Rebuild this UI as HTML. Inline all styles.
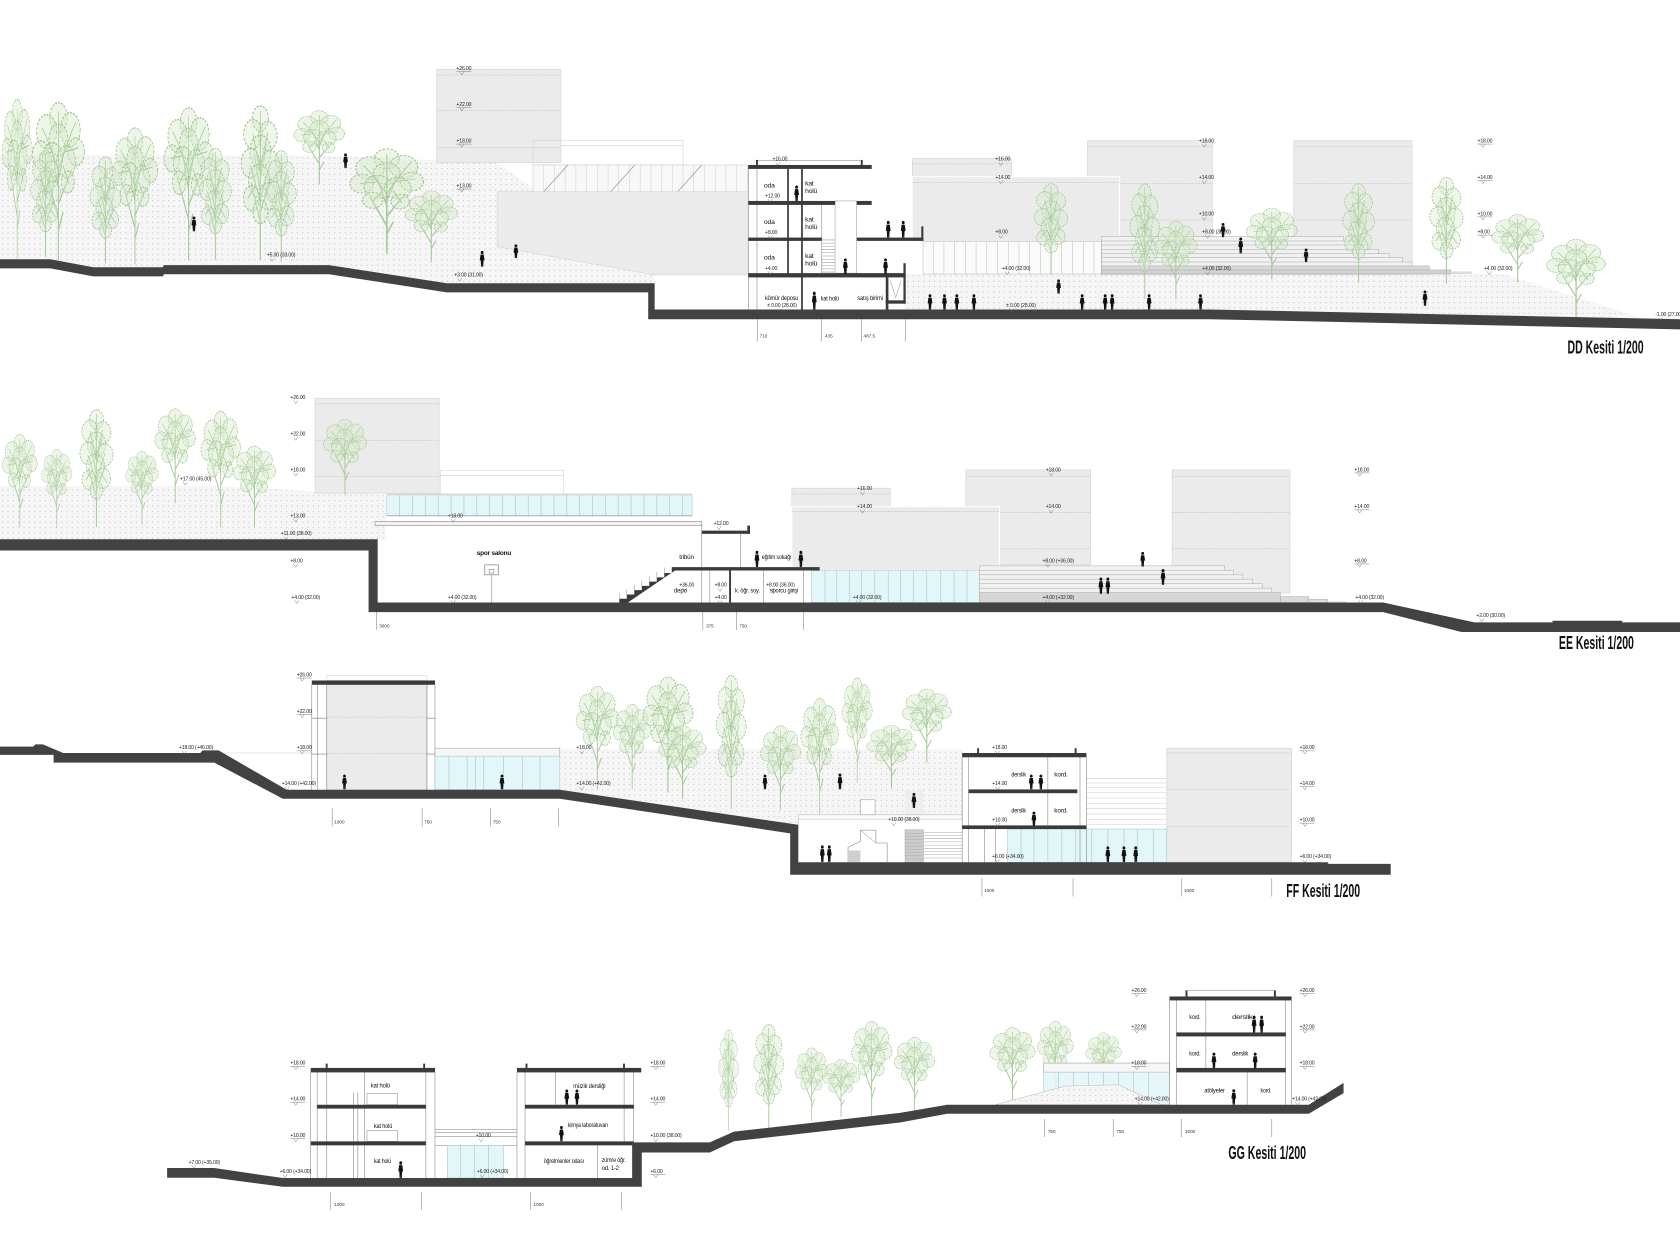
<!DOCTYPE html>
<html><head><meta charset="utf-8"><title>Kesitler</title>
<style>
html,body{margin:0;padding:0;background:#fff}
svg{display:block}
.lv text{font-family:"Liberation Sans Narrow","Liberation Sans",sans-serif;font-size:4.8px;fill:#222;letter-spacing:-0.15px}
.lv path{stroke:#666;stroke-width:.4;fill:none}
.rm{font-family:"Liberation Sans Narrow","Liberation Sans",sans-serif;font-size:6.3px;fill:#111;letter-spacing:-0.2px}
.dm{font-family:"Liberation Sans",sans-serif;font-size:4.3px;fill:#333}
.tt{font-family:"Liberation Sans Narrow","Liberation Sans",sans-serif;font-size:17px;font-weight:bold;fill:#111}
.gb{fill:#ebebeb;stroke:#d6d6d6;stroke-width:.6}
.sl{fill:#3a3a3a}
.gr{fill:#424242}
.ln{stroke:#7a7a7a;stroke-width:.5;fill:none}
.lk{stroke:#444;stroke-width:.7;fill:none}
.lf{stroke:#d0d0d0;stroke-width:.5;fill:none}
.dl{stroke:#b0b0b0;stroke-width:.5;stroke-dasharray:1 1;fill:none}
.gl{fill:#e3f6f8;stroke:#9ec9cf;stroke-width:.5}
.ml{stroke:#a6ccd2;stroke-width:.6;fill:none}
.st{fill:#f1f1f1;stroke:#a5a5a5;stroke-width:.45}
</style></head><body>
<svg xmlns="http://www.w3.org/2000/svg" width="1680" height="1235" viewBox="0 0 1568 1153" preserveAspectRatio="none">
<defs>
<pattern id="dt" width="5" height="5" patternUnits="userSpaceOnUse"><rect width="5" height="5" fill="#f6f6f6"/><circle cx="2.5" cy="2.5" r=".55" fill="#c2c2c2"/></pattern>
<symbol id="ta" viewBox="0 0 100 160" preserveAspectRatio="none">
<path d="M50 160V55M50 118L30 75M50 104L72 70M50 88L38 45M50 80L63 40M50 130L58 112" fill="none" stroke="#a6cb98" stroke-width="2"/>
<g fill="#d6e8cd" fill-opacity=".45" stroke="#9cc58d" stroke-width="1.5" stroke-dasharray="3 2">
<circle cx="50" cy="18" r="15"/><circle cx="30" cy="32" r="17"/><circle cx="70" cy="30" r="17"/><circle cx="50" cy="40" r="16"/><circle cx="20" cy="55" r="14"/><circle cx="80" cy="52" r="14"/><circle cx="40" cy="60" r="17"/><circle cx="63" cy="62" r="16"/><circle cx="33" cy="80" r="12"/><circle cx="66" cy="82" r="11"/>
</g>
<path d="M50 70L30 38M50 70L72 33M50 62L50 12M40 52L18 55M62 52L84 48M45 66L33 82M58 66L68 84M30 38L22 28M72 33L80 22" fill="none" stroke="#a9cd9b" stroke-width="1.3"/>
</symbol>
<symbol id="tb" viewBox="0 0 100 160" preserveAspectRatio="none">
<path d="M50 160V30M50 120L35 80M50 110L66 78M50 90L40 50M50 75L60 40" fill="none" stroke="#a6cb98" stroke-width="2"/>
<g fill="#d6e8cd" fill-opacity=".4" stroke="#9cc58d" stroke-width="1.5" stroke-dasharray="3 2">
<circle cx="50" cy="14" r="13"/><circle cx="38" cy="30" r="15"/><circle cx="62" cy="32" r="15"/><circle cx="50" cy="48" r="17"/><circle cx="34" cy="60" r="15"/><circle cx="66" cy="62" r="15"/><circle cx="48" cy="78" r="17"/><circle cx="36" cy="96" r="13"/><circle cx="62" cy="94" r="14"/><circle cx="50" cy="110" r="12"/>
</g>
<path d="M50 100L34 62M50 96L66 60M50 70L38 30M50 64L62 28M50 40L50 6M42 84L30 96M58 86L70 100" fill="none" stroke="#a9cd9b" stroke-width="1.3"/>
</symbol>
<symbol id="pp" viewBox="0 0 6 16" preserveAspectRatio="none"><circle cx="3" cy="1.8" r="1.6"/><path d="M1.2 3.8h3.6l.9 5.8h-1.1l-.4 6.4h-1.1l-.1-4.2-.1 4.2h-1.1l-.4-6.4h-1.1z"/></symbol>
</defs>
<rect width="1568" height="1153" fill="#fff"/>

<!-- ================= DD ================= -->
<path fill="url(#dt)" d="M0 145L300 145L464 152L611 256.7L611 264.5L417 264.5L307 247.5L153 247.5L152 249.5L87 249.5L47 242L0 242Z"/>
<path fill="url(#dt)" d="M844 255.8L1404 255.8L1531.5 297L1129 289L844 289Z"/>
<rect class="gb" x="407.5" y="64.7" width="116" height="87.1"/>
<path class="dl" d="M407.5 70H523.5M407.5 103.4H523.5M407.5 137.5H523.5"/>
<rect class="lf" x="497.5" y="131" width="140" height="23"/>
<path class="lf" d="M523.5 136H637.5"/>
<rect x="497.5" y="154" width="200" height="25" fill="#f8f8f8" stroke="#c8c8c8" stroke-width=".5"/>
<path class="lf" d="M507.5 154V179M517.5 154V179M527.5 154V179M537.5 154V179M547.5 154V179M557.5 154V179M567.5 154V179M577.5 154V179M587.5 154V179M597.5 154V179M607.5 154V179M617.5 154V179M627.5 154V179M637.5 154V179M647.5 154V179M657.5 154V179M667.5 154V179M677.5 154V179M687.5 154V179"/>
<path class="ln" d="M507.5 179L530 154M570 179L592.5 154M632.5 179L655 154"/>
<path class="gb" d="M464 179L697.5 179L697.5 256.7L611 256.7L464 230.3Z"/>
<!-- right blocks -->
<rect class="gb" x="1015" y="131.3" width="116.5" height="89.7"/>
<path class="dl" d="M1015 136.9H1131.5M1015 171.1H1131.5M1015 205.4H1131.5"/>
<rect class="gb" x="1207.5" y="131.3" width="110.5" height="114.5"/>
<path class="dl" d="M1207.5 136.9H1318M1207.5 171.1H1318M1207.5 205.4H1318"/>
<rect class="gb" x="851.5" y="147.8" width="92.5" height="17.2"/>
<path class="dl" d="M851.5 153H944"/>
<rect class="gb" x="851.5" y="165" width="193.5" height="60.6" style="stroke:#fff;stroke-width:1"/>
<path class="dl" d="M851.5 170.5H1045"/>
<rect x="861.5" y="225.6" width="166.5" height="30.2" fill="#fbfbfb" stroke="#bbb" stroke-width=".5"/>
<path class="lf" d="M871 225.6V255.8M881 225.6V255.8M891 225.6V255.8M901 225.6V255.8M911 225.6V255.8M921 225.6V255.8M931 225.6V255.8M941 225.6V255.8M951 225.6V255.8M961 225.6V255.8M971 225.6V255.8M981 225.6V255.8M991 225.6V255.8M1001 225.6V255.8M1011 225.6V255.8M1021 225.6V255.8" style="stroke:#bdbdbd"/>
<!-- DD stairs -->
<rect class="st" x="1028" y="220.9" width="226" height="34.9"/>
<rect class="st" x="1028" y="225" width="236" height="30.8"/>
<rect class="st" x="1028" y="228.7" width="248.5" height="27.1"/>
<rect class="st" x="1028" y="232.7" width="258.5" height="23.1"/>
<rect class="st" x="1028" y="236.8" width="268.5" height="19"/>
<rect class="st" x="1028" y="240.5" width="281" height="15.3"/>
<rect class="st" x="1028" y="244.6" width="290" height="11.2"/>
<rect x="1028" y="248.3" width="306" height="7.5" fill="#d9d9d9" stroke="#a5a5a5" stroke-width=".45"/>
<rect x="1028" y="252" width="326" height="3.8" fill="#d2d2d2" stroke="#a5a5a5" stroke-width=".45"/>
<rect x="1354" y="253.5" width="20" height="2.3" fill="#dcdcdc"/>
<!-- DD trees -->
<use href="#ta" x="0" y="90" width="32" height="152"/>
<use href="#ta" x="27" y="93" width="55" height="150"/>
<use href="#tb" x="20" y="140" width="45" height="100"/>
<use href="#tb" x="75" y="146" width="47" height="100"/>
<use href="#ta" x="102" y="117" width="48" height="130"/>
<use href="#ta" x="150" y="98" width="52" height="145"/>
<use href="#tb" x="177" y="138" width="48" height="105"/>
<use href="#tb" x="214" y="98" width="58" height="145"/>
<use href="#tb" x="240" y="140" width="45" height="105"/>
<use href="#ta" x="271" y="102" width="54" height="70"/>
<use href="#ta" x="322" y="137" width="78" height="100"/>
<use href="#ta" x="375" y="177" width="55" height="68"/>
<use href="#tb" x="956" y="171" width="50" height="85"/>
<use href="#tb" x="1046" y="171" width="45" height="108"/>
<use href="#ta" x="1075" y="205" width="45" height="75"/>
<use href="#ta" x="1160" y="193" width="54" height="68"/>
<use href="#tb" x="1244" y="171" width="48" height="93"/>
<use href="#tb" x="1325" y="165" width="50" height="100"/>
<use href="#ta" x="1389" y="199" width="55" height="65"/>
<use href="#ta" x="1440" y="222" width="62" height="75"/>
<!-- DD building -->
<rect x="698.5" y="154" width="115.5" height="135" fill="#fff"/>
<path class="ln" d="M698.5 154V289M706.5 158V289"/>
<rect x="779.4" y="187.6" width="20.2" height="67.4" fill="none" stroke="#999" stroke-width=".5"/>
<path class="lf" d="M767 224H779M767 227H779M767 230H779M767 233H779M767 236H779M767 239H779M767 242H779M767 245H779M767 248H779M767 251H779M767 254H779" style="stroke:#999"/>
<path class="ln" d="M767 191V255"/>
<rect class="sl" x="698.4" y="154" width="115.2" height="3.7"/>
<rect class="sl" x="705.6" y="149.3" width="1.8" height="4.7"/>
<rect class="sl" x="803.4" y="149.3" width="1.8" height="4.7"/>
<path class="ln" d="M707.4 150H803.4"/>
<rect class="sl" x="734.7" y="157.7" width="1.6" height="98"/>
<rect class="sl" x="747.7" y="157.7" width="1.6" height="131.6"/>
<rect class="sl" x="698.4" y="187.6" width="81" height="3.7"/>
<rect class="sl" x="799.6" y="187.6" width="14" height="3.7"/>
<rect class="sl" x="698.4" y="221.8" width="68.5" height="3.1"/>
<rect class="sl" x="799.6" y="221.8" width="62.2" height="3.1"/>
<rect class="sl" x="859.9" y="211.3" width="1.9" height="13.6"/>
<rect class="sl" x="698.4" y="255" width="146.9" height="4"/>
<rect class="sl" x="843.2" y="245.7" width="2.1" height="13.3"/>
<rect class="sl" x="826.7" y="259" width="2.5" height="30.3"/>
<rect class="sl" x="826.7" y="280.4" width="18.6" height="3.1"/>
<rect class="sl" x="843.2" y="259" width="2.1" height="24.5"/>
<path class="lf" d="M831 262L836 278L841 262" style="stroke:#999"/>
<!-- DD ground -->
<path class="gr" d="M0 242L47 242L87 249.5L152 249.5L153 247.5L307 247.5L417 264.5L611 264.5L611 289L1129 289L1568 298L1568 307.5L1129 298L605 298L605 273L417 273L307 256L153 256L152 258L87 258L47 250.5L0 250.5Z"/>
<path class="ln" d="M706.8 298V319M766.9 298V319M804.2 298V319M845.3 298V319"/>
<text class="dm" x="709" y="315">710</text><text class="dm" x="770" y="315">435</text><text class="dm" x="806" y="315">487.5</text>
<!-- DD figures -->
<g fill="#111">
<use href="#pp" x="320" y="143" width="5" height="14"/>
<use href="#pp" x="178.5" y="202" width="5" height="14"/>
<use href="#pp" x="447.5" y="234" width="5" height="15"/>
<use href="#pp" x="479" y="228" width="5" height="13"/>
<use href="#pp" x="741" y="173" width="5" height="15"/>
<use href="#pp" x="826.5" y="206" width="5" height="16"/>
<use href="#pp" x="840.5" y="206" width="5" height="16"/>
<use href="#pp" x="786.5" y="241" width="5" height="15"/>
<use href="#pp" x="824" y="241" width="5" height="15"/>
<use href="#pp" x="757.5" y="272" width="5" height="17"/>
<use href="#pp" x="865.5" y="274.5" width="5" height="14.5"/>
<use href="#pp" x="879" y="274.5" width="5" height="14.5"/>
<use href="#pp" x="890.5" y="274.5" width="5" height="14.5"/>
<use href="#pp" x="906.5" y="274.5" width="5" height="14.5"/>
<use href="#pp" x="985.5" y="260.7" width="5" height="13.5"/>
<use href="#pp" x="1007.5" y="274.5" width="5" height="14.5"/>
<use href="#pp" x="1029" y="274.5" width="5" height="14.5"/>
<use href="#pp" x="1035.5" y="274.5" width="5" height="14.5"/>
<use href="#pp" x="1070" y="274.5" width="5" height="14.5"/>
<use href="#pp" x="1118" y="274.5" width="5" height="14.5"/>
<use href="#pp" x="1139" y="208" width="5" height="13.5"/>
<use href="#pp" x="1155.5" y="221.5" width="5" height="15"/>
<use href="#pp" x="1216.5" y="231.8" width="5" height="13"/>
<use href="#pp" x="1327.5" y="271" width="5" height="14.6"/>
</g>
<!-- DD labels -->
<g class="lv" transform="translate(426 65.5)"><text>+26.00</text><path d="M0 1.5h14M3 1.5l2 3 2-3"/></g>
<g class="lv" transform="translate(426 99)"><text>+22.00</text><path d="M0 1.5h14M3 1.5l2 3 2-3"/></g>
<g class="lv" transform="translate(426 133)"><text>+18.00</text><path d="M0 1.5h14M3 1.5l2 3 2-3"/></g>
<g class="lv" transform="translate(426 175)"><text>+13.00</text><path d="M0 1.5h14M3 1.5l2 3 2-3"/></g>
<g class="lv" transform="translate(249 239.5)"><text>+5.00 (33.00)</text><path d="M3 1.5l2 3 2-3"/></g>
<g class="lv" transform="translate(424 258)"><text>+3.00 (31.00)</text><path d="M3 1.5l2 3 2-3"/></g>
<g class="lv" transform="translate(721 150)"><text>+16.00</text><path d="M3 1.5l2 3 2-3"/></g>
<g class="lv" transform="translate(714 184.5)"><text>+12.00</text><path d="M3 1.5l2 3 2-3"/></g>
<g class="lv" transform="translate(714 218.5)"><text>+8.00</text><path d="M3 1.5l2 3 2-3"/></g>
<g class="lv" transform="translate(714 252)"><text>+4.00</text><path d="M3 1.5l2 3 2-3"/></g>
<g class="lv" transform="translate(716 286.5)"><text>± 0.00 (28.00)</text></g>
<g class="lv" transform="translate(929 150)"><text>+16.00</text><path d="M3 1.5l2 3 2-3"/></g>
<g class="lv" transform="translate(929 167)"><text>+14.00</text><path d="M3 1.5l2 3 2-3"/></g>
<g class="lv" transform="translate(929 218)"><text>+8.00</text><path d="M3 1.5l2 3 2-3"/></g>
<g class="lv" transform="translate(935 252)"><text>+4.00 (32.00)</text><path d="M3 1.5l2 3 2-3"/></g>
<g class="lv" transform="translate(1119 133)"><text>+18.00</text><path d="M3 1.5l2 3 2-3"/></g>
<g class="lv" transform="translate(1119 167)"><text>+14.00</text><path d="M3 1.5l2 3 2-3"/></g>
<g class="lv" transform="translate(1119 201)"><text>+10.00</text><path d="M3 1.5l2 3 2-3"/></g>
<g class="lv" transform="translate(1122 218)"><text>+8.00 (36.00)</text><path d="M3 1.5l2 3 2-3"/></g>
<g class="lv" transform="translate(1122 252)"><text>+4.00 (32.00)</text><path d="M3 1.5l2 3 2-3"/></g>
<g class="lv" transform="translate(1379 133)"><text>+18.00</text><path d="M0 1.5h14M3 1.5l2 3 2-3"/></g>
<g class="lv" transform="translate(1379 167)"><text>+14.00</text><path d="M0 1.5h14M3 1.5l2 3 2-3"/></g>
<g class="lv" transform="translate(1379 201)"><text>+10.00</text><path d="M0 1.5h14M3 1.5l2 3 2-3"/></g>
<g class="lv" transform="translate(1379 218)"><text>+8.00</text><path d="M0 1.5h14M3 1.5l2 3 2-3"/></g>
<g class="lv" transform="translate(1385 252)"><text>+4.00 (32.00)</text><path d="M3 1.5l2 3 2-3"/></g>
<g class="lv" transform="translate(939 286.5)"><text>± 0.00 (28.00)</text><path d="M3 1.5l2 3 2-3"/></g>
<g class="lv" transform="translate(1545 295)"><text>-1.00 (27.00)</text><path d="M3 1.5l2 3 2-3"/></g>
<text class="rm" x="713" y="175" textLength="10" lengthAdjust="spacingAndGlyphs">oda</text>
<text class="rm" x="713" y="209" textLength="10" lengthAdjust="spacingAndGlyphs">oda</text>
<text class="rm" x="713" y="242.5" textLength="10" lengthAdjust="spacingAndGlyphs">oda</text>
<text class="rm" x="751.5" y="173">kat</text><text class="rm" x="751.5" y="180">holü</text>
<text class="rm" x="751.5" y="207">kat</text><text class="rm" x="751.5" y="214">holü</text>
<text class="rm" x="751.5" y="241">kat</text><text class="rm" x="751.5" y="248">holü</text>
<text class="rm" x="714" y="280" textLength="31" lengthAdjust="spacingAndGlyphs">kömür deposu</text>
<text class="rm" x="766" y="280.5" textLength="17" lengthAdjust="spacingAndGlyphs">kat holü</text>
<text class="rm" x="800" y="280" textLength="24" lengthAdjust="spacingAndGlyphs">satış birimi</text>
<text class="tt" x="1463" y="330" textLength="71" lengthAdjust="spacingAndGlyphs">DD Kesiti 1/200</text>

<!-- ================= EE ================= -->
<path fill="url(#dt)" d="M0 453.6L200 453.6L360 462L360 503.5L0 503.5Z"/>
<rect class="gb" x="294" y="371.8" width="116" height="88.7"/>
<path class="dl" d="M294 377H410M294 411H410M294 445H410"/>
<rect class="lf" x="411" y="439" width="115" height="23"/>
<path class="lf" d="M411 444H526"/>
<!-- EE trees -->
<use href="#ta" x="0" y="404" width="37" height="88"/>
<use href="#ta" x="37" y="418" width="32" height="75"/>
<use href="#tb" x="65" y="382" width="50" height="110"/>
<use href="#ta" x="115" y="420" width="35" height="70"/>
<use href="#ta" x="142" y="380" width="43" height="90"/>
<use href="#ta" x="185" y="382" width="42" height="110"/>
<use href="#ta" x="215" y="415" width="45" height="77"/>
<use href="#ta" x="299" y="390" width="46" height="72"/>
<!-- clerestory -->
<rect class="gl" x="361" y="462" width="285" height="19.6"/>
<rect x="361" y="460.8" width="285" height="1.6" fill="#d8d8d8"/>
<path class="ml" d="M373 462V481.6M385 462V481.6M397 462V481.6M409 462V481.6M421 462V481.6M433 462V481.6M445 462V481.6M457 462V481.6M469 462V481.6M481 462V481.6M493 462V481.6M505 462V481.6M517 462V481.6M529 462V481.6M541 462V481.6M553 462V481.6M565 462V481.6M577 462V481.6M589 462V481.6M601 462V481.6M613 462V481.6M625 462V481.6M637 462V481.6"/>
<path class="ln" d="M361 481.6H646"/>
<rect x="350" y="487" width="305" height="3.5" fill="#f2f2f2" stroke="#777" stroke-width=".5"/>
<!-- EE right blocks -->
<rect class="gb" x="901.5" y="438.7" width="116.5" height="88.7"/>
<path class="dl" d="M901.5 444.9H1018M901.5 478.4H1018M901.5 512.4H1018"/>
<rect class="gb" x="1094" y="438.7" width="110" height="115"/>
<path class="dl" d="M1094 444.9H1204M1094 478.4H1204M1094 512.4H1204"/>
<rect class="gb" x="739" y="455.8" width="92" height="17.2"/>
<path class="dl" d="M739 461.1H831"/>
<rect class="gb" x="739" y="473" width="194" height="59.5" style="stroke:#fff;stroke-width:1"/>
<path class="dl" d="M739 477.6H933"/>
<rect class="gl" x="757.5" y="532.6" width="156.5" height="29.9"/>
<path class="ml" d="M770 532.6V562.5M781 532.6V562.5M793 532.6V562.5M804 532.6V562.5M816.5 532.6V562.5M829 532.6V562.5M840.5 532.6V562.5M852.5 532.6V562.5M865 532.6V562.5M878 532.6V562.5M890.5 532.6V562.5M902.5 532.6V562.5"/>
<!-- EE stairs -->
<rect class="st" x="914" y="528.3" width="229" height="34.2"/>
<rect class="st" x="914" y="532.6" width="237.5" height="29.9"/>
<rect class="st" x="914" y="536.7" width="246" height="25.8"/>
<rect class="st" x="914" y="540.7" width="255" height="21.8"/>
<rect class="st" x="914" y="545" width="264" height="17.5"/>
<rect class="st" x="914" y="549.1" width="273" height="13.4"/>
<rect x="914" y="553.2" width="281" height="9.3" fill="#d6d6d6" stroke="#a5a5a5" stroke-width=".45"/>
<rect x="1195" y="557" width="26.5" height="5.5" fill="#dadada" stroke="#a5a5a5" stroke-width=".45"/>
<rect x="1221.5" y="559.4" width="17.5" height="3.1" fill="#dedede" stroke="#a5a5a5" stroke-width=".45"/>
<rect x="1239" y="561.3" width="17.5" height="1.2" fill="#e2e2e2"/>
<!-- EE hall -->
<path class="ln" d="M655 490V562.5M691 498.4V529.5M662.5 532.6V562.5M712.5 532.6V562.5M750 532.6V562.5"/>
<rect class="sl" x="655" y="495.4" width="45" height="3"/>
<rect class="sl" x="697.5" y="490.7" width="2.5" height="7.7"/>
<path class="sl" d="M572 562.5L578 562.5L578 559L585 559L585 555L592 555L592 551L599 551L599 547L606 547L606 543L613 543L613 539L620 539L620 535L627 535L627 529.5L765 529.5L765 532.6L630 532.6L586 562.5Z"/>
<path class="ln" d="M578 559v-5M585 555v-5M592 551v-5M599 547v-5M606 543v-5M613 539v-5M620 535v-5" style="stroke:#999"/>
<rect class="sl" x="680.5" y="532.6" width="1.8" height="30"/>
<rect x="452.5" y="527.4" width="12.5" height="9.3" fill="none" stroke="#555" stroke-width=".5"/>
<rect x="456.5" y="531.5" width="4.5" height="3.5" fill="none" stroke="#555" stroke-width=".4"/>
<path class="ln" d="M459 536.7V562.5"/>
<!-- EE ground -->
<path class="gr" d="M0 503.5L352.5 503.5L352.5 562.5L1291 562.5L1376 581L1449 581L1449 579.5L1514 579.5L1514 581L1568 581L1568 590L1364 590L1291 571.5L344 571.5L344 514L0 514Z"/>
<path class="ln" d="M351.5 571.5V588M656 571.5V588M687.5 571.5V588M750 571.5V588"/>
<text class="dm" x="354" y="586">3600</text><text class="dm" x="659" y="586">375</text><text class="dm" x="690" y="586">750</text>
<g fill="#111">
<use href="#pp" x="704" y="514" width="5" height="15.5"/>
<use href="#pp" x="745" y="514" width="5" height="15.5"/>
<use href="#pp" x="1064" y="515" width="5" height="14"/>
<use href="#pp" x="1083" y="531" width="5" height="15"/>
<use href="#pp" x="1025" y="539" width="5" height="15.5"/>
<use href="#pp" x="1031.5" y="539" width="5" height="15.5"/>
</g>
<g class="lv" transform="translate(271 372.5)"><text>+26.00</text><path d="M3 1.5l2 3 2-3"/></g>
<g class="lv" transform="translate(271 406.5)"><text>+22.00</text><path d="M3 1.5l2 3 2-3"/></g>
<g class="lv" transform="translate(271 440)"><text>+18.00</text><path d="M3 1.5l2 3 2-3"/></g>
<g class="lv" transform="translate(271 483)"><text>+13.00</text><path d="M3 1.5l2 3 2-3"/></g>
<g class="lv" transform="translate(262 499.5)"><text>+11.00 (38.00)</text><path d="M3 1.5l2 3 2-3"/></g>
<g class="lv" transform="translate(271 525)"><text>+8.00</text><path d="M3 1.5l2 3 2-3"/></g>
<g class="lv" transform="translate(272 559)"><text>+4.00 (32.00)</text><path d="M3 1.5l2 3 2-3"/></g>
<g class="lv" transform="translate(168 448.5)"><text>+17.00 (45.00)</text><path d="M3 1.5l2 3 2-3"/></g>
<g class="lv" transform="translate(418 483)"><text>+13.00</text><path d="M3 1.5l2 3 2-3"/></g>
<g class="lv" transform="translate(418 559)"><text>+4.00 (32.00)</text><path d="M3 1.5l2 3 2-3"/></g>
<g class="lv" transform="translate(666 490)"><text>+12.00</text><path d="M3 1.5l2 3 2-3"/></g>
<g class="lv" transform="translate(634 547.5)"><text>+36.00</text><path d="M3 1.5l2 3 2-3"/></g>
<g class="lv" transform="translate(667 547.5)"><text>+8.00</text><path d="M3 1.5l2 3 2-3"/></g>
<g class="lv" transform="translate(715 547.5)"><text>+8.00 (36.00)</text><path d="M3 1.5l2 3 2-3"/></g>
<g class="lv" transform="translate(667 559)"><text>+4.00</text><path d="M3 1.5l2 3 2-3"/></g>
<g class="lv" transform="translate(800 457.5)"><text>+16.00</text><path d="M3 1.5l2 3 2-3"/></g>
<g class="lv" transform="translate(800 474.5)"><text>+14.00</text><path d="M3 1.5l2 3 2-3"/></g>
<g class="lv" transform="translate(796 559)"><text>+4.00 (32.00)</text><path d="M3 1.5l2 3 2-3"/></g>
<g class="lv" transform="translate(976 440)"><text>+18.00</text><path d="M3 1.5l2 3 2-3"/></g>
<g class="lv" transform="translate(976 474.5)"><text>+14.00</text><path d="M3 1.5l2 3 2-3"/></g>
<g class="lv" transform="translate(973 525)"><text>+8.00 (+36.00)</text><path d="M3 1.5l2 3 2-3"/></g>
<g class="lv" transform="translate(973 559)"><text>+4.00 (+32.00)</text><path d="M3 1.5l2 3 2-3"/></g>
<g class="lv" transform="translate(1264 440)"><text>+18.00</text><path d="M0 1.5h14M3 1.5l2 3 2-3"/></g>
<g class="lv" transform="translate(1264 474.5)"><text>+14.00</text><path d="M0 1.5h14M3 1.5l2 3 2-3"/></g>
<g class="lv" transform="translate(1264 525)"><text>+8.00</text><path d="M0 1.5h14M3 1.5l2 3 2-3"/></g>
<g class="lv" transform="translate(1265 559)"><text>+4.00 (32.00)</text><path d="M3 1.5l2 3 2-3"/></g>
<g class="lv" transform="translate(1378 576)"><text>+2.00 (30.00)</text><path d="M3 1.5l2 3 2-3"/></g>
<text class="rm" x="445" y="518" textLength="32" lengthAdjust="spacingAndGlyphs" style="font-weight:bold">spor salonu</text>
<text class="rm" x="634" y="522" textLength="13.5" lengthAdjust="spacingAndGlyphs">tribün</text>
<text class="rm" x="711" y="522" textLength="27.5" lengthAdjust="spacingAndGlyphs">eğitim sokağı</text>
<text class="rm" x="629" y="553" textLength="12" lengthAdjust="spacingAndGlyphs">depo</text>
<text class="rm" x="686" y="553" textLength="23" lengthAdjust="spacingAndGlyphs">k. öğr. soy.</text>
<text class="rm" x="718.5" y="553" textLength="26.5" lengthAdjust="spacingAndGlyphs">sporcu girişi</text>
<text class="tt" x="1455" y="606" textLength="70" lengthAdjust="spacingAndGlyphs">EE Kesiti 1/200</text>

<!-- ================= FF ================= -->
<path fill="url(#dt)" d="M522.5 699.4L898 699.4L898 761.6L745 761.6L745 770L522.5 737.3Z"/>
<path class="lf" d="M204 703H291"/>
<rect class="lf" x="305" y="630.5" width="93.5" height="4.8"/>
<rect x="291" y="639.3" width="115" height="98" fill="#fff"/>
<rect class="gb" x="305" y="639.3" width="93.5" height="98"/>
<path class="dl" d="M305 669.5H398.5M305 703.7H398.5"/>
<path class="ln" d="M291 639.3V737.3M296.5 639.3V737.3M305 639.3V737.3M398.5 639.3V737.3M406 639.3V737.3M291 670.5H305M291 704H305M398.5 670.5H406M398.5 704H406"/>
<rect class="sl" x="291" y="635.3" width="115" height="4"/>
<rect x="406" y="698.5" width="116.5" height="7.5" fill="#f6f6f6" stroke="#999" stroke-width=".5"/>
<rect class="gl" x="406" y="706" width="116.5" height="31.3"/>
<path class="ml" d="M419 706V737.3M436 706V737.3M444 706V737.3M451.5 706V737.3M470 706V737.3M487.5 706V737.3M504 706V737.3"/>
<!-- FF right tower and behind -->
<path class="lf" d="M1014 727H1089M1014 731H1089M1014 735H1089M1014 740H1089M1014 745H1089M1014 750H1089M1014 755H1089M1014 760H1089M1014 765H1089M1014 770H1089"/>
<rect class="gb" x="1089" y="698.5" width="116.5" height="106.5"/>
<path class="dl" d="M1089 703H1205.5M1089 737.3H1205.5M1089 771.6H1205.5"/>
<!-- FF trees -->
<use href="#ta" x="535" y="639" width="45" height="98"/>
<use href="#ta" x="570" y="656" width="40" height="81"/>
<use href="#ta" x="597" y="630" width="53" height="110"/>
<use href="#ta" x="612" y="676" width="50" height="70"/>
<use href="#tb" x="660" y="630" width="45" height="125"/>
<use href="#ta" x="707" y="676" width="43" height="80"/>
<use href="#ta" x="745" y="650" width="40" height="110"/>
<use href="#ta" x="784" y="631" width="32" height="100"/>
<use href="#ta" x="806" y="676" width="52" height="60"/>
<use href="#ta" x="839" y="642" width="52" height="70"/>
<!-- FF basement middle -->
<rect x="844.7" y="737.4" width="17.1" height="23.3" fill="#eeeeee"/>
<rect x="745" y="760.7" width="153" height="4" fill="#fafafa" stroke="#b5b5b5" stroke-width=".5"/>
<path class="ln" d="M745 764.7V805" style="stroke:#aaa"/>
<rect x="803" y="746.7" width="13.7" height="14" fill="#fff" stroke="#999" stroke-width=".5"/>
<path class="ln" d="M791.5 805V791L803 785.5V775H817.5V787H828V805"/>
<path class="ln" d="M803 775L817.5 787" style="stroke:#aaa"/>
<rect x="791.5" y="794" width="11.5" height="11" fill="#cfcfcf"/>
<rect x="844.7" y="774.7" width="17.1" height="30.3" fill="#cdcdcd" stroke="#999" stroke-width=".4"/>
<path class="lf" d="M844.7 778H861.8M844.7 781H861.8M844.7 784H861.8M844.7 787H861.8M844.7 790H861.8M844.7 793H861.8M844.7 796H861.8M844.7 799H861.8M844.7 802H861.8M861.8 777H898M861.8 780H898M861.8 783H898M861.8 786H898M861.8 789H898M861.8 792H898M861.8 795H898M861.8 798H898M861.8 801H898" style="stroke:#aaa"/>
<!-- FF right building -->
<rect x="898" y="707" width="116" height="98" fill="#fff"/>
<rect class="gl" x="940.5" y="774" width="148.5" height="31"/>
<path class="ml" d="M953 774V805M965 774V805M978 774V805M991 774V805M1004 774V805M1019 774V805M1034 774V805M1049 774V805M1061.5 774V805M1076.5 774V805"/>
<path class="ln" d="M898 707V805M904 707V805M1008 707V805M1014 707V805M978 707V770.6M919 774V805M929 774V805"/>
<rect class="sl" x="898" y="703" width="116" height="4"/>
<rect class="sl" x="912" y="698.5" width="1.8" height="4.5"/>
<rect class="sl" x="1003" y="698.5" width="1.8" height="4.5"/>
<rect class="sl" x="904" y="737" width="101.5" height="3.5"/>
<rect class="sl" x="898" y="770.6" width="116" height="3.4"/>
<!-- FF ground -->
<path class="gr" d="M0 697L31 697L33 695L40 695L59 703L187 703L189 700.6L204 700.6L267.5 737.3L522.5 737.3L745 770L745 805L1239 805L1240 806.5L1298 806.5L1298 816.7L737.5 816.7L737.5 778L522.5 745.7L264 745.7L200 712L50 712L50 704.7L0 704.7Z"/>
<path class="ln" d="M310 754.5V771.6M394 754.5V771.6M458 754.5V771.6M521.5 754.5V771.6M916.5 820V837M1001.5 820V837M1103 820V837M1187 820V837"/>
<text class="dm" x="312" y="769">1000</text><text class="dm" x="396" y="769">750</text><text class="dm" x="460" y="769">750</text>
<text class="dm" x="918.5" y="833">1000</text><text class="dm" x="1105" y="833">1000</text>
<g fill="#111">
<use href="#pp" x="319" y="723" width="5" height="14"/>
<use href="#pp" x="466" y="723" width="5" height="14"/>
<use href="#pp" x="711.5" y="723" width="5" height="14"/>
<use href="#pp" x="781.5" y="722" width="5" height="15"/>
<use href="#pp" x="765" y="789" width="5" height="16"/>
<use href="#pp" x="771.5" y="789" width="5" height="16"/>
<use href="#pp" x="850.5" y="740" width="5" height="14.5"/>
<use href="#pp" x="960" y="723" width="5" height="14"/>
<use href="#pp" x="969" y="723" width="5" height="14"/>
<use href="#pp" x="962.5" y="757.6" width="5" height="13.5"/>
<use href="#pp" x="1031.5" y="790" width="5" height="15"/>
<use href="#pp" x="1046.5" y="790" width="5" height="15"/>
<use href="#pp" x="1057.5" y="790" width="5" height="15"/>
</g>
<g class="lv" transform="translate(167 699.5)"><text>+18.00 (+46.00)</text><path d="M3 1.5l2 3 2-3"/></g>
<g class="lv" transform="translate(277 631.5)"><text>+26.00</text><path d="M0 1.5h14M3 1.5l2 3 2-3"/></g>
<g class="lv" transform="translate(277 665.5)"><text>+22.00</text><path d="M0 1.5h14M3 1.5l2 3 2-3"/></g>
<g class="lv" transform="translate(277 699.5)"><text>+18.00</text><path d="M0 1.5h14M3 1.5l2 3 2-3"/></g>
<g class="lv" transform="translate(263 733)"><text>+14.00 (+42.00)</text><path d="M3 1.5l2 3 2-3"/></g>
<g class="lv" transform="translate(538 699.5)"><text>+18.00</text><path d="M3 1.5l2 3 2-3"/></g>
<g class="lv" transform="translate(538 733)"><text>+14.00 (+42.00)</text><path d="M3 1.5l2 3 2-3"/></g>
<g class="lv" transform="translate(829 766.5)"><text>+10.00 (38.00)</text><path d="M3 1.5l2 3 2-3"/></g>
<g class="lv" transform="translate(926 699.5)"><text>+18.00</text><path d="M3 1.5l2 3 2-3"/></g>
<g class="lv" transform="translate(926 733)"><text>+14.00</text><path d="M3 1.5l2 3 2-3"/></g>
<g class="lv" transform="translate(926 767)"><text>+10.00</text><path d="M3 1.5l2 3 2-3"/></g>
<g class="lv" transform="translate(926 801)"><text>+6.00 (+34.00)</text><path d="M3 1.5l2 3 2-3"/></g>
<g class="lv" transform="translate(1213 699.5)"><text>+18.00</text><path d="M0 1.5h14M3 1.5l2 3 2-3"/></g>
<g class="lv" transform="translate(1213 733)"><text>+14.00</text><path d="M0 1.5h14M3 1.5l2 3 2-3"/></g>
<g class="lv" transform="translate(1213 767)"><text>+10.00</text><path d="M0 1.5h14M3 1.5l2 3 2-3"/></g>
<g class="lv" transform="translate(1213 801)"><text>+6.00 (+34.00)</text><path d="M3 1.5l2 3 2-3"/></g>
<text class="rm" x="944" y="725" textLength="13.5" lengthAdjust="spacingAndGlyphs">derslik</text>
<text class="rm" x="984" y="725" textLength="12.5" lengthAdjust="spacingAndGlyphs">kord.</text>
<text class="rm" x="944" y="758.5" textLength="13.5" lengthAdjust="spacingAndGlyphs">derslik</text>
<text class="rm" x="984" y="758.5" textLength="12.5" lengthAdjust="spacingAndGlyphs">kord.</text>
<text class="tt" x="1200.5" y="837.5" textLength="69" lengthAdjust="spacingAndGlyphs">FF Kesiti 1/200</text>

<!-- ================= GG ================= -->
<use href="#tb" x="665" y="961" width="30" height="95"/>
<use href="#tb" x="695" y="956" width="45" height="98"/>
<use href="#ta" x="740" y="977" width="35" height="70"/>
<use href="#ta" x="765" y="988" width="40" height="55"/>
<use href="#ta" x="792" y="952" width="43" height="90"/>
<use href="#ta" x="832" y="967" width="43" height="72"/>
<use href="#ta" x="921" y="958" width="48" height="73"/>
<use href="#ta" x="966" y="952" width="38" height="75"/>
<use href="#ta" x="1011" y="963" width="38" height="60"/>
<rect x="974" y="992.5" width="117.5" height="8.5" fill="#f6f6f6" stroke="#999" stroke-width=".5"/>
<rect class="gl" x="974" y="1001" width="117.5" height="30.4" style="fill-opacity:.85"/>
<path class="ml" d="M988 1001V1031.4M1002 1001V1031.4M1016 1001V1031.4M1030 1001V1031.4M1044 1001V1031.4M1058 1001V1031.4M1072 1001V1031.4"/>
<path fill="url(#dt)" stroke="#bbb" stroke-width=".5" d="M929 1031.4L994 1014L1044 1012.7L1084 1031.4Z"/>
<!-- building A -->
<rect x="290" y="1001" width="116" height="98.8" fill="#fff"/>
<path class="ln" d="M290 1001V1099.8M296 1001V1099.8M305 1001V1099.8M330 1020V1099.8M334 1020V1099.8M340 1001V1099.8M397.5 1001V1099.8M406 1001V1099.8"/>
<rect x="342.5" y="1021" width="28.5" height="10.4" fill="none" stroke="#888" stroke-width=".5"/>
<rect x="342.5" y="1055.3" width="28.5" height="10.3" fill="none" stroke="#888" stroke-width=".5"/>
<rect class="sl" x="290" y="997" width="116" height="4.2"/>
<rect class="sl" x="304" y="993" width="1.8" height="4"/>
<rect class="sl" x="395" y="993" width="1.8" height="4"/>
<rect class="sl" x="296" y="1031.4" width="101.5" height="3.6"/>
<rect class="sl" x="290" y="1065.6" width="107.5" height="3.7"/>
<path class="ln" d="M406 1054.7H482.5M406 1057.2H482.5M406 1061H482.5M406 1069.3H482.5"/>
<rect class="gl" x="417.5" y="1069.3" width="52.5" height="30.5"/>
<path class="ml" d="M430 1069.3V1099.8M443 1069.3V1099.8M456 1069.3V1099.8"/>
<!-- building B -->
<rect x="482.5" y="1001" width="107.5" height="98.8" fill="#fff"/>
<path class="ln" d="M482.5 1001V1099.8M490 1001V1099.8M518.5 1001V1031.4M557.5 1069.3V1099.8M582.5 1001V1065.6M591.5 1001V1066"/>
<rect class="sl" x="482.5" y="997" width="116" height="4.2"/>
<rect class="sl" x="490.5" y="993" width="1.8" height="4"/>
<rect class="sl" x="581.5" y="993" width="1.8" height="4"/>
<rect class="sl" x="490" y="1031.4" width="101.5" height="3.6"/>
<rect class="sl" x="490" y="1065.6" width="101.5" height="3.7"/>
<!-- building C -->
<rect x="1091.5" y="934" width="114" height="97.4" fill="#fff"/>
<path class="ln" d="M1091.5 934V1031.4M1098 934V1031.4M1200 934V1031.4M1205.5 934V1031.4M1125.5 934V997M1164 1001V1031.4"/>
<rect class="sl" x="1091.5" y="930.3" width="114" height="3.7"/>
<rect class="sl" x="1106.5" y="924.6" width="1.8" height="5.7"/>
<rect class="sl" x="1189" y="924.6" width="1.8" height="5.7"/>
<path class="ln" d="M1108 925H1189"/>
<rect class="sl" x="1098" y="963.9" width="102" height="3.7"/>
<rect class="sl" x="1098" y="997" width="102" height="4.2"/>
<!-- GG ground -->
<path class="gr" d="M156 1090.5L200 1090.5L264 1099.8L590 1099.8L590 1066.5L662.5 1066.5L685 1056.5L840 1039L884 1031.4L1221.5 1031.4L1254 1011L1254 1020.5L1221.5 1039.8L884 1039.8L840 1048L685 1065.5L662.5 1076L599 1076L599 1108L264 1108L200 1099.5L156 1099.5Z"/>
<path class="ln" d="M308.5 1113V1129.4M393.5 1113V1129.4M495 1113V1129.4M580 1113V1129.4M975 1044.7V1061.5M1039 1044.7V1061.5M1102.5 1044.7V1061.5M1187 1044.7V1061.5"/>
<text class="dm" x="312" y="1126">1000</text><text class="dm" x="498" y="1126">1000</text>
<text class="dm" x="978" y="1058">750</text><text class="dm" x="1042" y="1058">750</text><text class="dm" x="1106" y="1058">1000</text>
<g fill="#111">
<use href="#pp" x="371.5" y="1084" width="5" height="16"/>
<use href="#pp" x="526.5" y="1017" width="5" height="14.4"/>
<use href="#pp" x="536" y="1017" width="5" height="14.4"/>
<use href="#pp" x="521.5" y="1051" width="5" height="14.6"/>
<use href="#pp" x="1168" y="948" width="5" height="16"/>
<use href="#pp" x="1175" y="948" width="5" height="16"/>
<use href="#pp" x="1130.5" y="982.5" width="5" height="15"/>
<use href="#pp" x="1169" y="982.5" width="5" height="15"/>
<use href="#pp" x="1149" y="1016.7" width="5" height="14.7"/>
</g>
<g class="lv" transform="translate(176 1086.5)"><text>+7.00 (+35.00)</text><path d="M3 1.5l2 3 2-3"/></g>
<g class="lv" transform="translate(271 994)"><text>+18.00</text><path d="M0 1.5h14M3 1.5l2 3 2-3"/></g>
<g class="lv" transform="translate(271 1027.5)"><text>+14.00</text><path d="M0 1.5h14M3 1.5l2 3 2-3"/></g>
<g class="lv" transform="translate(271 1061.5)"><text>+10.00</text><path d="M0 1.5h14M3 1.5l2 3 2-3"/></g>
<g class="lv" transform="translate(261 1095)"><text>+6.00 (+34.00)</text><path d="M3 1.5l2 3 2-3"/></g>
<g class="lv" transform="translate(444 1061.5)"><text>+10.00</text><path d="M3 1.5l2 3 2-3"/></g>
<g class="lv" transform="translate(445 1095)"><text>+6.00 (+34.00)</text><path d="M3 1.5l2 3 2-3"/></g>
<g class="lv" transform="translate(607 994)"><text>+18.00</text><path d="M0 1.5h14M3 1.5l2 3 2-3"/></g>
<g class="lv" transform="translate(607 1027.5)"><text>+14.00</text><path d="M0 1.5h14M3 1.5l2 3 2-3"/></g>
<g class="lv" transform="translate(607 1061.5)"><text>+10.00 (38.00)</text><path d="M3 1.5l2 3 2-3"/></g>
<g class="lv" transform="translate(607 1095)"><text>+6.00</text><path d="M0 1.5h14M3 1.5l2 3 2-3"/></g>
<g class="lv" transform="translate(1056 926)"><text>+26.00</text><path d="M0 1.5h14M3 1.5l2 3 2-3"/></g>
<g class="lv" transform="translate(1056 960)"><text>+22.00</text><path d="M0 1.5h14M3 1.5l2 3 2-3"/></g>
<g class="lv" transform="translate(1056 994)"><text>+18.00</text><path d="M0 1.5h14M3 1.5l2 3 2-3"/></g>
<g class="lv" transform="translate(1059 1027.5)"><text>+14.00 (+42.00)</text><path d="M3 1.5l2 3 2-3"/></g>
<g class="lv" transform="translate(1213 926)"><text>+26.00</text><path d="M0 1.5h14M3 1.5l2 3 2-3"/></g>
<g class="lv" transform="translate(1213 960)"><text>+22.00</text><path d="M0 1.5h14M3 1.5l2 3 2-3"/></g>
<g class="lv" transform="translate(1213 994)"><text>+18.00</text><path d="M0 1.5h14M3 1.5l2 3 2-3"/></g>
<g class="lv" transform="translate(1206 1027.5)"><text>+14.00 (+42.00)</text><path d="M3 1.5l2 3 2-3"/></g>
<text class="rm" x="346" y="1015.5" textLength="18" lengthAdjust="spacingAndGlyphs">kat holü</text>
<text class="rm" x="349" y="1053" textLength="17" lengthAdjust="spacingAndGlyphs">kat holü</text>
<text class="rm" x="349" y="1086" textLength="16" lengthAdjust="spacingAndGlyphs">kat holü</text>
<text class="rm" x="535" y="1016" textLength="30" lengthAdjust="spacingAndGlyphs">müzik dersliği</text>
<text class="rm" x="530" y="1052" textLength="37.5" lengthAdjust="spacingAndGlyphs">kimya laboratuvarı</text>
<text class="rm" x="507.5" y="1086" textLength="37.5" lengthAdjust="spacingAndGlyphs">öğretmenler odası</text>
<text class="rm" x="561.5" y="1085" textLength="22.5" lengthAdjust="spacingAndGlyphs">zümre öğr.</text>
<text class="rm" x="561.5" y="1092.5" textLength="16" lengthAdjust="spacingAndGlyphs">od. 1-2</text>
<text class="rm" x="1110" y="951.5" textLength="10.5" lengthAdjust="spacingAndGlyphs">kord.</text>
<text class="rm" x="1150" y="951.5" textLength="19" lengthAdjust="spacingAndGlyphs">derslik</text>
<text class="rm" x="1110" y="985.5" textLength="10.5" lengthAdjust="spacingAndGlyphs">kord.</text>
<text class="rm" x="1150" y="985.5" textLength="15" lengthAdjust="spacingAndGlyphs">derslik</text>
<text class="rm" x="1124" y="1020" textLength="19" lengthAdjust="spacingAndGlyphs">atölyeler</text>
<text class="rm" x="1176.5" y="1020" textLength="10" lengthAdjust="spacingAndGlyphs">kord.</text>
<text class="tt" x="1146.5" y="1082" textLength="72.5" lengthAdjust="spacingAndGlyphs">GG Kesiti 1/200</text>
</svg>
</body></html>
